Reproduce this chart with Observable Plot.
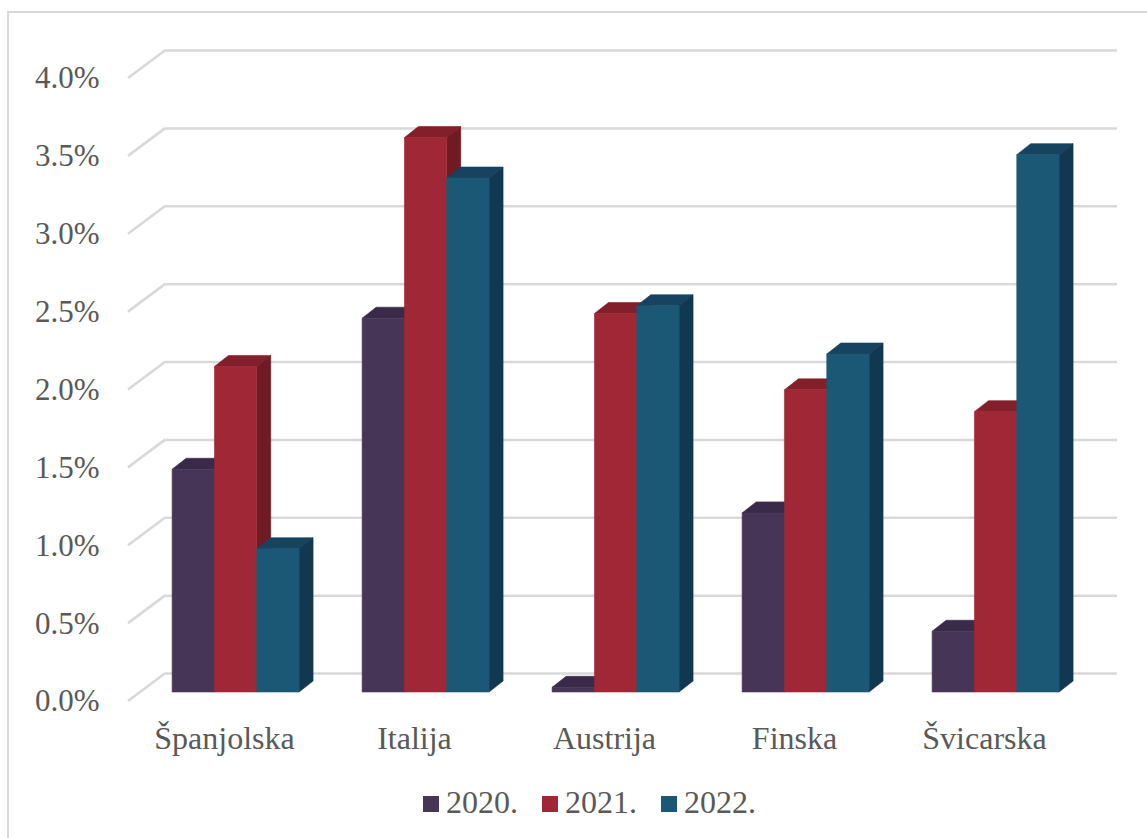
<!DOCTYPE html>
<html>
<head>
<meta charset="utf-8">
<script src="https://cdn.jsdelivr.net/npm/d3@7"></script>
<script src="https://cdn.jsdelivr.net/npm/@observablehq/plot@0.6"></script>
<style>
  html, body { margin: 0; padding: 0; background: #fff; width: 1147px; height: 838px; overflow: hidden; }
  #frame { position: absolute; left: 7px; top: 11px; right: -3px; bottom: -3px; border: 2px solid #d9d9d9; box-sizing: border-box; }
  #chart { position: absolute; left: 0; top: 0; }
  #chart svg { display: block; background: transparent; font-family: "Liberation Serif", serif; }
  #legend { position: absolute; left: 423px; top: 779px; display: flex; align-items: center; height: 46px;
            font: 32px "Liberation Serif", serif; color: #595959; }
  .item { display: flex; align-items: center; margin-right: 24px; }
  .sw { width: 16px; height: 16px; margin-right: 7px; margin-top: 4px; }
</style>
</head>
<body>
<div id="frame"></div>
<div id="chart"></div>
<div id="legend"></div>
<script>
const countries = ["Španjolska", "Italija", "Austrija", "Finska", "Švicarska"];
const years = ["2020.", "2021.", "2022."];
const values2020 = [1.43, 2.40, 0.03, 1.15, 0.39];
const values2021 = [2.09, 3.56, 2.43, 1.94, 1.80];
const values2022 = [0.92, 3.30, 2.48, 2.17, 3.45];
const yTicks = [0, 0.5, 1, 1.5, 2, 2.5, 3, 3.5, 4];
const frontColors = ["#473557", "#a02735", "#1a5876"];
const topColors = ["#3a2a49", "#831f2b", "#164360"];
const sideColors = ["#35263f", "#6e1b24", "#123750"];

const series = [values2020, values2021, values2022];
const rows = years.flatMap((year, j) =>
  countries.map((country, i) => ({country, year, value: series[j][i], j})));
rows.sort((a, b) => countries.indexOf(a.country) - countries.indexOf(b.country) || a.j - b.j);

// oblique projection of the 3-D box
const wall = {dx: 37.5, dy: -28};   // front edge to back wall
const barPlane = {dx: 11.6, dy: -9};  // axis plane to the bars' front face
const depth = {dx: 14, dy: -11};  // bar depth
const barShare = 42.4 / 190.4;    // bar width as a share of a category band

function wallDiagonals(index, scales, values, dimensions) {
  const g = d3.create("svg:g");
  for (const i of index) {
    g.append("line")
      .attr("x1", dimensions.marginLeft).attr("y1", values.y[i])
      .attr("x2", dimensions.marginLeft + wall.dx).attr("y2", values.y[i] + wall.dy)
      .attr("stroke", "#d9d9d9").attr("stroke-width", 2.5);
  }
  return g.node();
}

function boxes(index, scales, values) {
  const g = d3.create("svg:g");
  const band = scales.x.bandwidth();
  const w = band * barShare;
  const off = (band - 3 * w) / 2;
  for (const i of index) {
    const c = rows[i].j;
    const x0 = values.x[i] + off + c * w + barPlane.dx;
    const x1 = x0 + w;
    const yb = values.y1[i] + barPlane.dy;
    const yt = values.y2[i] + barPlane.dy;
    const dx = depth.dx, dy = depth.dy;
    const poly = (pts, fill) => g.append("polygon")
      .attr("points", pts.map(p => p.join(",")).join(" "))
      .attr("fill", fill).attr("stroke", fill).attr("stroke-width", 0.6);
    poly([[x0, yt], [x0 + dx, yt + dy], [x1 + dx, yt + dy], [x1, yt]], topColors[c]);
    poly([[x1, yt], [x1 + dx, yt + dy], [x1 + dx, yb + dy], [x1, yb]], sideColors[c]);
    poly([[x0, yt], [x1, yt], [x1, yb], [x0, yb]], frontColors[c]);
  }
  return g.node();
}

const chart = Plot.plot({
  width: 1147,
  height: 780,
  marginLeft: 128,
  marginRight: 67.5,
  marginTop: 78,
  marginBottom: 79,
  style: {fontFamily: "Liberation Serif", color: "#595959", background: "transparent", overflow: "visible"},
  x: {type: "band", domain: countries, padding: 0, label: null},
  y: {domain: [0, 4], label: null},
  marks: [
    Plot.ruleY(yTicks, {stroke: "#d9d9d9", strokeWidth: 2.5, dx: wall.dx, dy: wall.dy}),
    Plot.ruleY(yTicks, {render: wallDiagonals}),
    Plot.axisY({ticks: yTicks, tickSize: 0, tickPadding: 29, tickFormat: d => d.toFixed(1) + "%", label: null, fill: "#595959", fontSize: 31}),
    Plot.axisX({tickSize: 0, tickPadding: 25, label: null, fill: "#595959", fontSize: 32}),
    Plot.barY(rows, {x: "country", y1: 0, y2: "value", render: boxes})
  ]
});
document.getElementById("chart").appendChild(chart);

const legend = d3.select("#legend");
years.forEach((year, j) => {
  const item = legend.append("div").attr("class", "item");
  item.append("div").attr("class", "sw").style("background", frontColors[j]);
  item.append("span").text(year);
});
</script>
</body>
</html>
